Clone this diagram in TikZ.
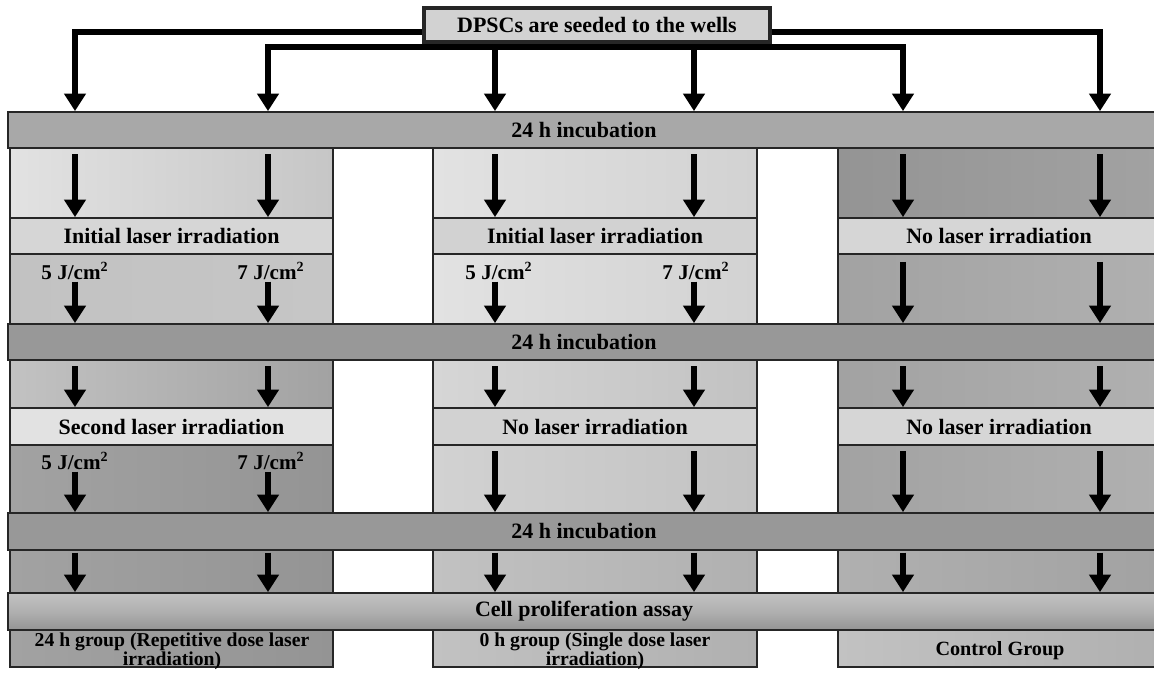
\documentclass[tikz,border=0pt]{standalone}
\usepackage{fontspec}
\setmainfont{Liberation Serif}
\usetikzlibrary{arrows.meta, fit}
\definecolor{SeedGrey}{HTML}{D2D2D2}
\definecolor{BarGrey}{HTML}{A8A8A8}
\definecolor{BarDark}{HTML}{989898}
\definecolor{BandLight}{HTML}{D6D6D6}
\definecolor{PaleA}{HTML}{E2E2E2}
\definecolor{PaleB}{HTML}{C6C6C6}
\definecolor{MidA}{HTML}{C2C2C2}
\definecolor{MidB}{HTML}{B0B0B0}
\definecolor{DarkA}{HTML}{A2A2A2}
\definecolor{DarkB}{HTML}{949494}
\colorlet{ColourLine}{black!85}
\tikzset{
  panel/.style={
    draw=ColourLine,
    line width=1pt,
    inner sep=0pt,
  },
  shade panel/.style 2 args={
    panel,
    left color=#1,
    right color=#2,
  },
  txt/.style={
    inner sep=0pt,
    font=\fontsize{12.5}{14}\selectfont\bfseries,
  },
  bar/.style 2 args={
    panel,
    fill=#1,
    label={[txt]center:#2},
  },
  dose/.style={
    inner sep=1pt,
    font=\fontsize{12}{14}\selectfont\bfseries,
  },
  group/.style={
    align=center,
    inner sep=0pt,
    font=\fontsize{11.2}{11}\selectfont\bfseries,
  },
  flow/.style={
    line width=3pt,
    -{Triangle[width=12pt,length=10pt]},
  },
  flow back/.style={
    line width=3pt,
    {Triangle[width=12pt,length=10pt]}-,
  },
  flow both/.style={
    line width=3pt,
    {Triangle[width=12pt,length=10pt]}-{Triangle[width=12pt,length=10pt]},
  },
}

\begin{document}
\begin{tikzpicture}[x=0.02cm, y=-0.02cm]
  \useasboundingbox (0,0) rectangle (1154,673);

  % arrow columns
  \coordinate (x1) at (75,0);
  \coordinate (x2) at (268,0);
  \coordinate (x3) at (495,0);
  \coordinate (x4) at (694,0);
  \coordinate (x5) at (903,0);
  \coordinate (x6) at (1100,0);
  \coordinate (split) at (577,47);

  % full width bars
  \node[bar={BarGrey}{24 h incubation}, fit={(8,112) (1160,148)}] (inc1) {};
  \node[bar={BarDark}{24 h incubation}, fit={(8,324) (1160,360)}] (inc2) {};
  \node[bar={BarDark}{24 h incubation}, fit={(8,513) (1160,550)}] (inc3) {};
  \node[panel, top color=MidA, bottom color=DarkB, middle color=MidB,
    label={[txt]center:Cell proliferation assay},
    fit={(8,593) (1160,630)}] (assay) {};

  % column A
  \node[shade panel={PaleA}{PaleB}, fit={(10,148) (333,218)}] (a1) {};
  \node[bar={BandLight}{Initial laser irradiation}, fit={(10,218) (333,254)}] (ba1) {};
  \node[shade panel={MidA}{PaleB}, fit={(10,254) (333,324)}] (a2) {};
  \node[shade panel={MidA}{DarkA}, fit={(10,360) (333,408)}] (a3) {};
  \node[bar={PaleA}{Second laser irradiation}, fit={(10,408) (333,445)}] (ba2) {};
  \node[shade panel={DarkA}{DarkB}, fit={(10,445) (333,513)}] (a4) {};
  \node[shade panel={DarkA}{DarkB}, fit={(10,550) (333,593)}] (a5) {};
  \node[shade panel={DarkA}{DarkB}, fit={(10,630) (333,667)}] (a6) {};

  % column B
  \node[shade panel={PaleA}{SeedGrey}, fit={(433,148) (757,218)}] (b1) {};
  \node[bar={SeedGrey}{Initial laser irradiation}, fit={(433,218) (757,254)}] (bb1) {};
  \node[shade panel={PaleA}{SeedGrey}, fit={(433,254) (757,324)}] (b2) {};
  \node[shade panel={BandLight}{MidA}, fit={(433,360) (757,408)}] (b3) {};
  \node[bar={SeedGrey}{No laser irradiation}, fit={(433,408) (757,445)}] (bb2) {};
  \node[shade panel={SeedGrey}{MidA}, fit={(433,445) (757,513)}] (b4) {};
  \node[shade panel={MidA}{MidB}, fit={(433,550) (757,593)}] (b5) {};
  \node[shade panel={MidA}{MidB}, fit={(433,630) (757,667)}] (b6) {};

  % column C
  \node[shade panel={DarkB}{DarkA}, fit={(838,148) (1160,218)}] (c1) {};
  \node[bar={BandLight}{No laser irradiation}, fit={(838,218) (1160,254)}] (bc1) {};
  \node[shade panel={DarkA}{MidB}, fit={(838,254) (1160,324)}] (c2) {};
  \node[shade panel={DarkA}{MidB}, fit={(838,360) (1160,408)}] (c3) {};
  \node[bar={BandLight}{No laser irradiation}, fit={(838,408) (1160,445)}] (bc2) {};
  \node[shade panel={DarkA}{MidB}, fit={(838,445) (1160,513)}] (c4) {};
  \node[shade panel={MidB}{DarkA}, fit={(838,550) (1160,593)}] (c5) {};
  \node[shade panel={MidA}{MidB}, fit={(838,630) (1160,667)}] (c6) {};

  % seeding
  \node[bar={SeedGrey}{DPSCs are seeded to the wells}, line width=2pt,
    fit={(424,8) (770,42)}] (seed) {};
  \draw[flow back] (inc1.north -| x1) |- ([yshift=-4pt]seed.west);
  \draw[flow back] (inc1.north -| x6) |- ([yshift=-4pt]seed.east);
  \draw[flow both] (inc1.north -| x2) |- (split) -| (inc1.north -| x5);
  \draw[flow] (split -| x3) -- (inc1.north -| x3);
  \draw[flow] (split -| x4) -- (inc1.north -| x4);

  % dose labels
  \node[dose] (da1) at (75,271) {5 J/cm\textsuperscript{2}};
  \node[dose] (da2) at (271,271) {7 J/cm\textsuperscript{2}};
  \node[dose] (db1) at (499,271) {5 J/cm\textsuperscript{2}};
  \node[dose] (db2) at (696,271) {7 J/cm\textsuperscript{2}};
  \node[dose] (da3) at (75,461) {5 J/cm\textsuperscript{2}};
  \node[dose] (da4) at (271,461) {7 J/cm\textsuperscript{2}};

  % arrows between stages
  \foreach \x in {x1,x2,x3,x4,x5,x6} {
    \draw[flow, shorten <=3pt] (inc1.south -| \x) -- (ba1.north -| \x);
    \draw[flow, shorten <=3pt] (inc2.south -| \x) -- (ba2.north -| \x);
    \draw[flow, shorten <=1pt] (inc3.south -| \x) -- (assay.north -| \x);
  }
  \draw[flow] (da1.south -| x1) -- (inc2.north -| x1);
  \draw[flow] (da2.south -| x2) -- (inc2.north -| x2);
  \draw[flow] (db1.south -| x3) -- (inc2.north -| x3);
  \draw[flow] (db2.south -| x4) -- (inc2.north -| x4);
  \draw[flow, shorten <=4pt] (bc1.south -| x5) -- (inc2.north -| x5);
  \draw[flow, shorten <=4pt] (bc1.south -| x6) -- (inc2.north -| x6);
  \draw[flow] (da3.south -| x1) -- (inc3.north -| x1);
  \draw[flow] (da4.south -| x2) -- (inc3.north -| x2);
  \foreach \x in {x3,x4} {
    \draw[flow, shorten <=3pt] (bb2.south -| \x) -- (inc3.north -| \x);
  }
  \foreach \x in {x5,x6} {
    \draw[flow, shorten <=3pt] (bc2.south -| \x) -- (inc3.north -| \x);
  }

  % groups
  \node[group] (ga) at (172,651) {24 h group (Repetitive dose laser\\irradiation)};
  \node[group] (gb) at (595,651) {0 h group (Single dose laser\\irradiation)};
  \node[group, font=\fontsize{11.5}{14}\selectfont\bfseries] (gc) at (1000,651) {Control Group};
\end{tikzpicture}
\end{document}
